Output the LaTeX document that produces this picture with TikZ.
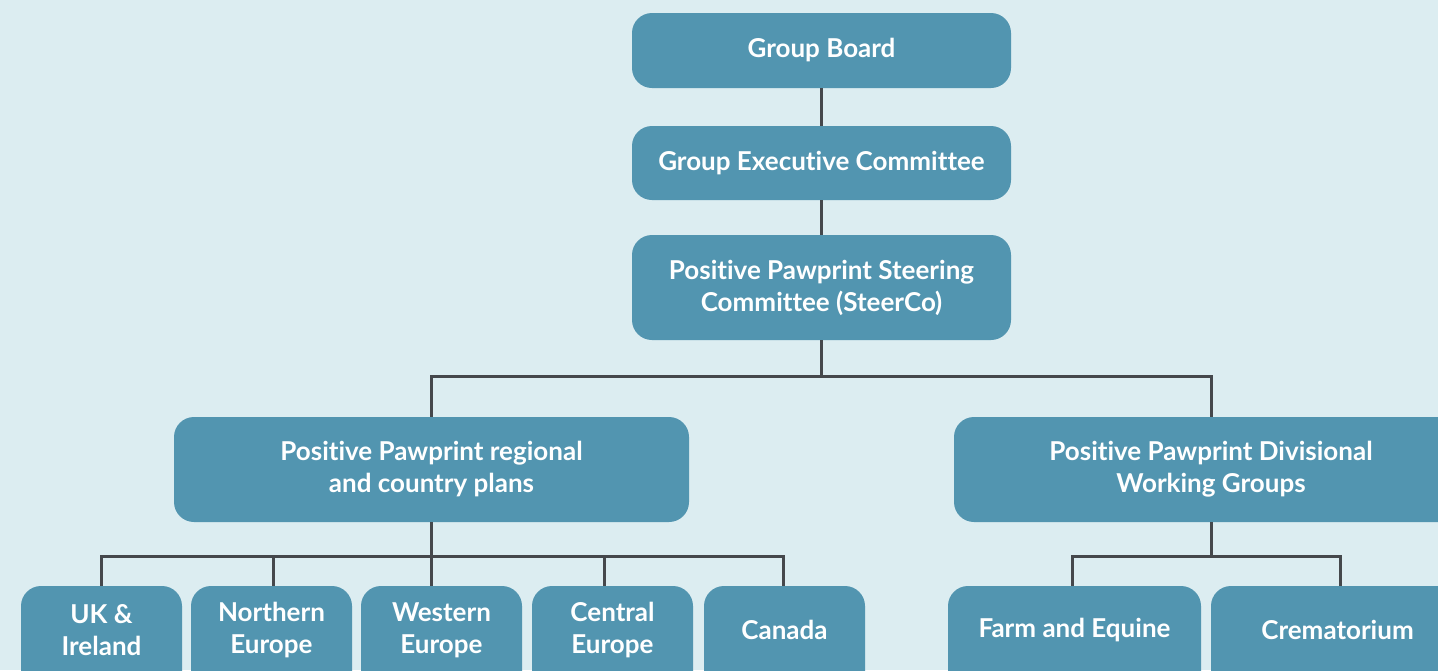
\documentclass[tikz,border=0pt]{standalone}
\usepackage{fontspec}
\setmainfont{Lato}[Ligatures={NoCommon}]
\usepackage{tikz}
\usepackage{xcolor}
\usetikzlibrary{positioning,calc}
\definecolor{pawbg}{HTML}{DCEDF1}
\definecolor{pawbox}{HTML}{5295B0}
\definecolor{pawline}{HTML}{45484C}

\begin{document}
\begin{tikzpicture}[x=1pt,y=-1pt,
  unit/.style={fill=pawbox,rounded corners=20pt,inner sep=0pt,text=white,
    font=\fontsize{26}{32}\selectfont\bfseries,align=center},
  leaf/.style={unit,minimum width=161pt,minimum height=114pt},
  leaftext/.style={font=\fontsize{26}{32}\selectfont\bfseries,text=white,align=center,yshift=13pt},
  link/.style={draw=pawline,line width=3pt}]
% Canvas
\clip (0,0) rectangle (1438,670);
\fill[pawbg] (0,0) rectangle (1438,670);

% Top of the chain
\node[unit,minimum width=379pt,minimum height=75pt] (board) at (821.5,50.5) {Group Board};
\node[unit,minimum width=379pt,minimum height=74pt] (exec) at (821.5,163) {Group Executive Committee};
\node[unit,minimum width=379pt,minimum height=105pt] (steer) at (821.5,287.5) {Positive Pawprint Steering\\Committee (SteerCo)};

% Second level
\node[unit,minimum width=515pt,minimum height=105pt] (regional) at (431.5,469.5) {Positive Pawprint regional\\and country plans};
\node[unit,minimum width=514pt,minimum height=105pt] (divisional) at (1211,469.5) {Positive Pawprint Divisional\\Working Groups};

% Regions and countries
\node[leaf,label={[leaftext]center:{UK \&\\Ireland}}] (uk) at (101.5,643) {};
\node[leaf,label={[leaftext]center:{Northern\\Europe}}] (north) at (271.5,643) {};
\node[leaf,label={[leaftext]center:{Western\\Europe}}] (west) at (441.5,643) {};
\node[leaf,label={[leaftext]center:{Central\\Europe}}] (central) at (612.5,643) {};
\node[leaf,label={[leaftext]center:Canada}] (canada) at (784.5,643) {};

% Divisions
\node[leaf,minimum width=253pt,label={[leaftext]center:Farm and Equine}] (farm) at (1074.5,643) {};
\node[leaf,minimum width=253pt,label={[leaftext]center:Crematorium}] (crem) at (1337.5,643) {};

% Connectors
\draw[link] (board) -- (exec);
\draw[link] (exec) -- (steer);
\draw[link] (steer.south) -- ++(0,36) coordinate (j1);
\draw[link] (regional.north) |- (j1) -| (divisional.north);

\draw[link] (regional.south) -- ++(0,34) coordinate (j2);
\draw[link] (uk.north) |- (j2) -| ([xshift=-1.5pt]canada.north);
\draw[link] (j2) -- (j2 |- west.north);
\draw[link] ([xshift=1.5pt]north.north) -- ([xshift=1.5pt]north.north |- j2);
\draw[link] ([xshift=-8.5pt]central.north) -- ([xshift=-8.5pt]central.north |- j2);

\draw[link] (divisional.south) -- ++(0,34) coordinate (j3);
\draw[link] ([xshift=-2.5pt]farm.north) |- (j3) -| ([xshift=2.5pt]crem.north);
\end{tikzpicture}
\end{document}
